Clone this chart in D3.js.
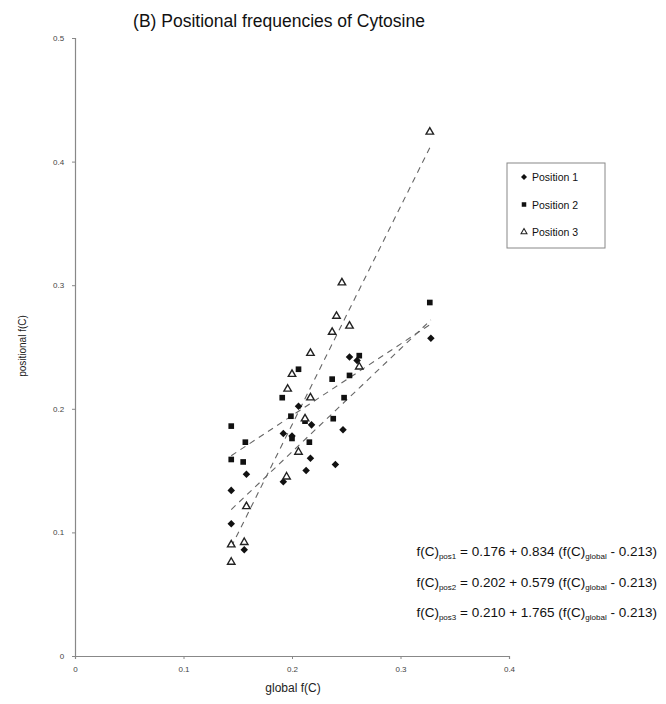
<!DOCTYPE html>
<meta charset="utf-8">
<style>
  body { margin: 0; background: #fff; }
  text { font-family: "Liberation Sans", Arial, sans-serif; }
</style>
<div id="chart"></div>
<script src="https://d3js.org/d3.v7.min.js"></script>
<script>
// values: [global f(C), positional f(C)]
var pos1 = [[0.328,0.257],[0.206,0.202],[0.192,0.180],[0.217,0.160],[0.213,0.150],[0.192,0.141],
            [0.240,0.155],[0.158,0.147],[0.144,0.134],[0.144,0.107],[0.156,0.086],[0.218,0.187],
            [0.247,0.183],[0.253,0.242],[0.260,0.239],[0.200,0.178]];
var pos2 = [[0.327,0.286],[0.206,0.232],[0.191,0.209],[0.237,0.224],[0.199,0.194],[0.200,0.176],
            [0.216,0.173],[0.144,0.186],[0.157,0.173],[0.144,0.159],[0.155,0.157],[0.262,0.243],
            [0.253,0.227],[0.248,0.209],[0.238,0.192],[0.212,0.190]];
var pos3 = [[0.327,0.424],[0.246,0.302],[0.241,0.275],[0.253,0.267],[0.237,0.262],[0.217,0.245],
            [0.200,0.228],[0.196,0.216],[0.217,0.209],[0.212,0.192],[0.206,0.165],[0.195,0.145],
            [0.158,0.121],[0.156,0.092],[0.144,0.090],[0.144,0.076],[0.262,0.234]];
// fitted lines: intercept, slope, centre
var fits = [[0.176,0.834,0.213],[0.202,0.579,0.213],[0.210,1.765,0.213]];
var fitLabels = ["pos1","pos2","pos3"];
var legendNames = ["Position 1","Position 2","Position 3"];
var xTicks = [0,0.1,0.2,0.3,0.4];
var yTicks = [0,0.1,0.2,0.3,0.4,0.5];

var W = 666, H = 704;
var svg = d3.select("#chart").append("svg").attr("width", W).attr("height", H);

var x = d3.scaleLinear().domain([0,0.4]).range([75,509]);
var y = d3.scaleLinear().domain([0,0.5]).range([656,38]);

// title
svg.append("text").attr("x", 279).attr("y", 27).attr("text-anchor","middle")
  .style("font-size","17.5px").style("fill","#111").text("(B) Positional frequencies of Cytosine");

// axes
var fmt = function(d){ return d === 0 ? "0" : d3.format(".1f")(d); };
var xAxis = svg.append("g").attr("transform","translate(0,656)")
  .call(d3.axisBottom(x).tickValues(xTicks).tickSize(3).tickFormat(fmt));
var yAxis = svg.append("g").attr("transform","translate(75,0)")
  .call(d3.axisLeft(y).tickValues(yTicks).tickSize(3).tickFormat(fmt));
[xAxis, yAxis].forEach(function(a){
  a.select(".domain").attr("stroke","#888").attr("stroke-width",1.2);
  a.selectAll(".tick line").attr("stroke","#888");
  a.selectAll(".tick text").style("font-size","8px").style("fill","#444")
    .style("font-family","Liberation Sans, Arial, sans-serif");
});
xAxis.selectAll(".tick text").attr("dy","1.3em");
yAxis.selectAll(".tick text").attr("dx","-0.6em");

svg.append("text").attr("x", 293).attr("y", 692).attr("text-anchor","middle")
  .style("font-size","12px").style("fill","#222").text("global f(C)");
svg.append("text").attr("transform","translate(26,346) rotate(-90)").attr("text-anchor","middle")
  .style("font-size","10px").style("fill","#222").text("positional f(C)");

// regression lines
[pos1,pos2,pos3].forEach(function(s,i){
  var ext = d3.extent(s, function(d){ return d[0]; });
  var f = fits[i];
  var pts = ext.map(function(v){ return [v, f[0] + f[1]*(v - f[2])]; });
  svg.append("path").datum(pts)
    .attr("d", d3.line().x(function(d){ return x(d[0]); }).y(function(d){ return y(d[1]); }))
    .attr("fill","none").attr("stroke","#666").attr("stroke-width",1.1)
    .attr("stroke-dasharray","6,5");
});

// markers
var diamond = d3.symbol().type(d3.symbolDiamond2 || d3.symbolDiamond).size(36);
var square = d3.symbol().type(d3.symbolSquare).size(32);
var tri = d3.symbol().type(d3.symbolTriangle).size(24);

svg.append("g").selectAll("path").data(pos1).join("path")
  .attr("transform", function(d){ return "translate(" + x(d[0]) + "," + y(d[1]) + ")"; })
  .attr("d", diamond).attr("fill","#111");
svg.append("g").selectAll("path").data(pos2).join("path")
  .attr("transform", function(d){ return "translate(" + x(d[0]) + "," + y(d[1]) + ")"; })
  .attr("d", square).attr("fill","#111");
svg.append("g").selectAll("path").data(pos3).join("path")
  .attr("transform", function(d){ return "translate(" + x(d[0]) + "," + y(d[1]) + ")"; })
  .attr("d", tri).attr("fill","#fff").attr("stroke","#222").attr("stroke-width",1.4);

// legend
var lg = svg.append("g").attr("transform","translate(507,163)");
lg.append("rect").attr("width",98).attr("height",85).attr("fill","#fff")
  .attr("stroke","#888").attr("stroke-width",1);
var syms = [diamond, square, tri];
legendNames.forEach(function(n,i){
  var yy = 14 + i*27.5;
  lg.append("path").attr("transform","translate(17," + yy + ") scale(0.8)").attr("d", syms[i])
    .attr("fill", i === 2 ? "#fff" : "#111").attr("stroke", i === 2 ? "#222" : "none").attr("stroke-width",1.3);
  lg.append("text").attr("x",25).attr("y",yy+4).style("font-size","10.5px").style("fill","#111").text(n);
});

// equations
fits.forEach(function(f,i){
  var t = svg.append("text").attr("x",657).attr("y",556 + i*30.5).attr("text-anchor","end")
    .style("font-size","13.5px").style("fill","#111");
  t.append("tspan").text("f(C)");
  t.append("tspan").attr("dy",3).style("font-size","8px").text(fitLabels[i]);
  t.append("tspan").attr("dy",-3).text(" = " + d3.format(".3f")(f[0]) + " + " + d3.format(".3f")(f[1]) + " (f(C)");
  t.append("tspan").attr("dy",3).style("font-size","8px").text("global");
  t.append("tspan").attr("dy",-3).text(" - " + d3.format(".3f")(f[2]) + ")");
});
</script>
